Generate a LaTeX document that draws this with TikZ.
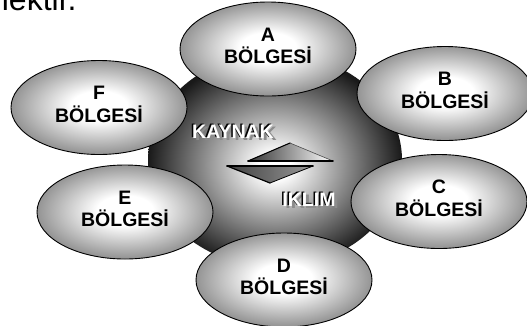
\documentclass[tikz,border=0pt]{standalone}
\usepackage{fontspec}
\setmainfont{Liberation Sans}
\usetikzlibrary{shapes.geometric}
\pgfdeclareradialshading{hubshade}{\pgfpoint{0bp}{-1.5bp}}{color(0bp)=(white); color(3bp)=(white); color(25bp)=(black!90); color(50bp)=(black!90)}
\pgfdeclareradialshading{podshade}{\pgfpoint{0bp}{1bp}}{color(0bp)=(white); color(8bp)=(white); color(25bp)=(black!42); color(50bp)=(black!42)}
\begin{document}
\begin{tikzpicture}[x=1pt,y=-1pt,
  region/.style={ellipse, draw=black, line width=0.9pt, shading=podshade, minimum width=176pt, minimum height=94pt, inner sep=0pt},
  lbl/.style={font=\bfseries\fontsize{19.5}{22.5}\selectfont, align=center, inner sep=0pt},
  emb/.style={font=\bfseries\fontsize{19.5}{22}\selectfont, inner sep=0pt}]
\useasboundingbox (0,0) rectangle (527,325);
\node[anchor=base west, inner sep=0pt, font=\fontsize{32}{36}\selectfont] (toptext) at (-9,10) {nektir.};
% central ellipse
\node[ellipse, minimum width=254pt, minimum height=214pt, shading=hubshade, inner sep=0pt] (hub) at (275,160) {};
% regions
\node[region] (a) at (268,49) {};
\node[region] (b) at (445,93.5) {};
\node[region] (c) at (439,201.5) {};
\node[region] (d) at (284,280) {};
\node[region] (e) at (125,212) {};
\node[region] (f) at (99,107.5) {};
\node[lbl] (la) at ([yshift=3pt]a.center) {A\\BÖLGESİ};
\node[lbl] (lb) at ([yshift=3pt]b.center) {B\\BÖLGESİ};
\node[lbl] (lc) at ([yshift=3pt]c.center) {C\\BÖLGESİ};
\node[lbl] (ld) at ([yshift=3pt]d.center) {D\\BÖLGESİ};
\node[lbl] (le) at ([yshift=3pt]e.center) {E\\BÖLGESİ};
\node[lbl] (lf) at ([yshift=3pt]f.center) {F\\BÖLGESİ};
% embossed texts
\node[emb, text=black!45] (kays) at (236,134) {KAYNAK};
\node[emb, text=black] (kayb) at (231.5,131.2) {KAYNAK};
\node[emb, text=white] (kay) at (233,132) {KAYNAK};
\node[emb, text=black!45] (ikls) at (312,202) {IKLIM};
\node[emb, text=black] (iklb) at (307.5,199.2) {IKLIM};
\node[emb, text=white] (ikl) at (309,200) {IKLIM};
% triangles
\coordinate (u1) at (248,161);
\coordinate (u2) at (290,143);
\coordinate (u3) at (333,161);
\shade[left color=black!80, right color=white] (u1) -- (u2) -- (u3) -- cycle;
\draw[line width=0.6pt, black!70] (u2) -- (u3);
\draw[line width=1.1pt, line cap=round] (u1) -- (u2);
\draw[line width=1.6pt, line cap=round] (u1) -- (u3);
\coordinate (l1) at (227,166);
\coordinate (l2) at (313,166);
\coordinate (l3) at (270,183);
\shade[left color=black!75, middle color=white!85!black, right color=black!40] (l1) -- (l2) -- (l3) -- cycle;
\draw[line width=0.8pt, line cap=round] (l2) -- (l3);
\draw[line width=1.2pt, line cap=round] (l1) -- (l3);
\draw[line width=1.8pt, line cap=round] (l1) -- (l2);
\end{tikzpicture}
\end{document}
